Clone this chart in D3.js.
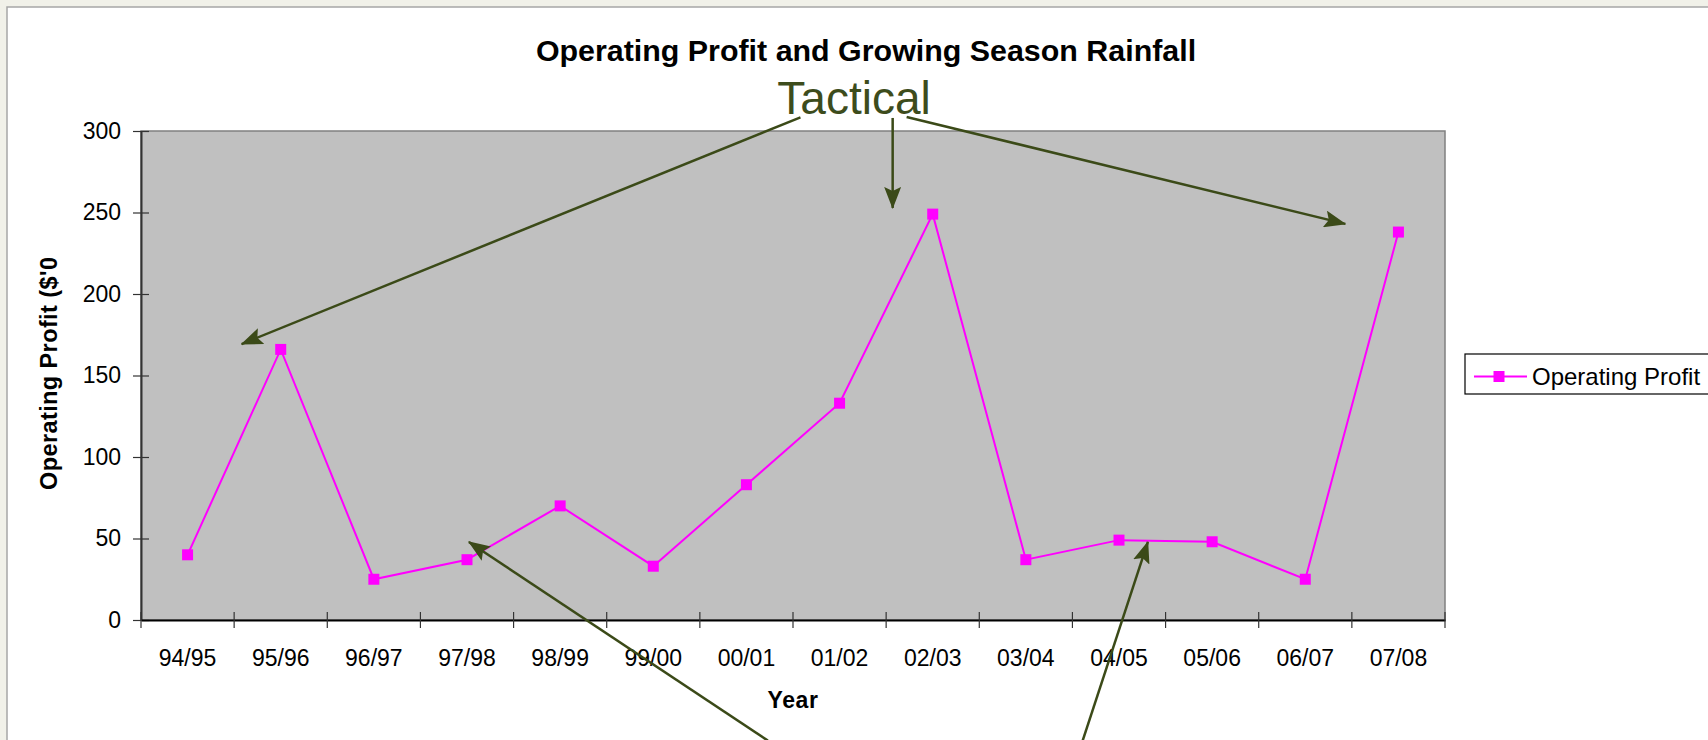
<!DOCTYPE html>
<html>
<head>
<meta charset="utf-8">
<script src="https://cdn.jsdelivr.net/npm/d3@7"></script>
<style>
  html, body { margin: 0; padding: 0; background: #f1f1e9; overflow: hidden; }
  svg { display: block; font-family: "Liberation Sans", Arial, sans-serif; }
</style>
</head>
<body>
<svg width="1708" height="740"></svg>
<script>
// datos
const years = ["94/95", "95/96", "96/97", "97/98", "98/99", "99/00", "00/01",
               "01/02", "02/03", "03/04", "04/05", "05/06", "06/07", "07/08"];
const profit = [40, 166, 25, 37, 70, 33, 83, 133, 249, 37, 49, 48, 25, 238];
const yTicks = [0, 50, 100, 150, 200, 250, 300];

// flechas de la anotacion, en unidades de datos [indice de año, valor]
const arrowFrom = [[6.58, 308.4], [7.57, 308], [7.72, 308.6], [6.23, -74], [9.61, -74]];
const arrowTo   = [[0.58, 169.3], [7.57, 252.8], [12.43, 243], [3.02, 47.9], [10.31, 47.9]];

const svg = d3.select("svg");
const margin = {top: 131, left: 141};
const width = 1304;
const height = 489;
const arrowColor = "#3b4a18";

// marco blanco
svg.append("rect")
  .attr("x", 7).attr("y", 7)
  .attr("width", 1760).attr("height", 800)
  .attr("fill", "#fff")
  .attr("stroke", "#a6a6a6")
  .attr("stroke-width", 1.5);

const defs = svg.append("defs");
defs.append("marker")
  .attr("id", "head")
  .attr("markerUnits", "userSpaceOnUse")
  .attr("viewBox", "0 0 22 17")
  .attr("refX", 21).attr("refY", 8.5)
  .attr("markerWidth", 22).attr("markerHeight", 17)
  .attr("orient", "auto")
  .append("path")
  .attr("d", "M0,0 L22,8.5 L0,17 L4,8.5 Z")
  .attr("fill", arrowColor);

defs.append("clipPath").attr("id", "ytitle-clip")
  .append("rect")
  .attr("x", 0).attr("y", 257)
  .attr("width", 130).attr("height", 480);

const g = svg.append("g")
  .attr("transform", `translate(${margin.left},${margin.top})`);

const xScale = d3.scaleBand().domain(years).range([0, width]);
const xIdx = d3.scaleLinear().domain([-0.5, years.length - 0.5]).range([0, width]); // para las flechas
const yScale = d3.scaleLinear().domain([0, 300]).range([height, 0]);

// fondo gris del area
g.append("rect")
  .attr("width", width)
  .attr("height", height)
  .attr("fill", "#c0c0c0")
  .attr("stroke", "#808080")
  .attr("stroke-width", 1.5);

// eje y
const yAxis = g.append("g")
  .call(d3.axisLeft(yScale).tickValues(yTicks).tickSize(8).tickSizeOuter(0).tickPadding(12));
yAxis.select(".domain").attr("stroke", "#333").attr("stroke-width", 2);
yAxis.selectAll(".tick line").attr("x1", 8).attr("stroke", "#333").attr("stroke-width", 1.2);
yAxis.selectAll(".tick text")
  .attr("font-size", 23)
  .attr("font-family", "Liberation Sans, Arial, sans-serif")
  .attr("fill", "#000");

// eje x
const xAxis = g.append("g")
  .attr("transform", `translate(0,${height})`)
  .call(d3.axisBottom(xScale).tickSize(8).tickSizeOuter(0).tickPadding(22));
xAxis.select(".domain").attr("stroke", "#000").attr("stroke-width", 2);
// las marcas van en los bordes de cada año, no en el centro
xAxis.selectAll(".tick line")
  .attr("transform", `translate(${-xScale.bandwidth() / 2},0)`)
  .attr("y1", -8).attr("stroke", "#333").attr("stroke-width", 1.2);
g.append("line")
  .attr("x1", width).attr("x2", width)
  .attr("y1", height - 8).attr("y2", height + 8)
  .attr("stroke", "#333").attr("stroke-width", 1.2);
xAxis.selectAll(".tick text")
  .attr("font-size", 23)
  .attr("font-family", "Liberation Sans, Arial, sans-serif")
  .attr("fill", "#000");

// linea y cuadrados
const cx = (d, i) => xScale(years[i]) + xScale.bandwidth() / 2;
g.append("path")
  .datum(profit)
  .attr("fill", "none")
  .attr("stroke", "#ff00ff")
  .attr("stroke-width", 2)
  .attr("d", d3.line().x(cx).y(d => yScale(d)));

g.selectAll("rect.pt")
  .data(profit)
  .join("rect")
  .attr("class", "pt")
  .attr("x", (d, i) => cx(d, i) - 5.5)
  .attr("y", d => yScale(d) - 5.5)
  .attr("width", 11).attr("height", 11)
  .attr("fill", "#ff00ff");

// flechas
g.selectAll("line.arrow")
  .data(arrowFrom)
  .join("line")
  .attr("class", "arrow")
  .attr("x1", d => xIdx(d[0]))
  .attr("y1", d => yScale(d[1]))
  .attr("x2", (d, i) => xIdx(arrowTo[i][0]))
  .attr("y2", (d, i) => yScale(arrowTo[i][1]))
  .attr("stroke", arrowColor)
  .attr("stroke-width", 2.5)
  .attr("marker-end", "url(#head)");

// textos
svg.append("text")
  .attr("x", 866).attr("y", 61)
  .attr("text-anchor", "middle")
  .attr("font-weight", "bold")
  .attr("font-size", 30.4)
  .text("Operating Profit and Growing Season Rainfall");

svg.append("text")
  .attr("x", margin.left + xIdx(7.155)).attr("y", margin.top + yScale(310.4))
  .attr("text-anchor", "middle")
  .attr("font-size", 46)
  .attr("fill", "#3d4c1c")
  .text("Tactical");

svg.append("text")
  .attr("x", margin.left + width / 2).attr("y", 708)
  .attr("text-anchor", "middle")
  .attr("font-weight", "bold")
  .attr("font-size", 23)
  .attr("letter-spacing", 0.6)
  .text("Year");

svg.append("g")
  .attr("clip-path", "url(#ytitle-clip)")
  .append("text")
  .attr("transform", "translate(57,490) rotate(-90)")
  .attr("font-weight", "bold")
  .attr("font-size", 23.5)
  .attr("letter-spacing", 0.4)
  .text("Operating Profit ($'000)");

// leyenda
const legend = svg.append("g").attr("transform", "translate(1465,354)");
legend.append("rect")
  .attr("width", 300).attr("height", 40)
  .attr("fill", "#fff")
  .attr("stroke", "#000")
  .attr("stroke-width", 1.2);
legend.append("line")
  .attr("x1", 9).attr("x2", 62)
  .attr("y1", 22.5).attr("y2", 22.5)
  .attr("stroke", "#ff00ff").attr("stroke-width", 2);
legend.append("rect")
  .attr("x", 28.5).attr("y", 17)
  .attr("width", 11).attr("height", 11)
  .attr("fill", "#ff00ff");
legend.append("text")
  .attr("x", 67).attr("y", 31)
  .attr("font-size", 24)
  .text("Operating Profit");
</script>
</body>
</html>
